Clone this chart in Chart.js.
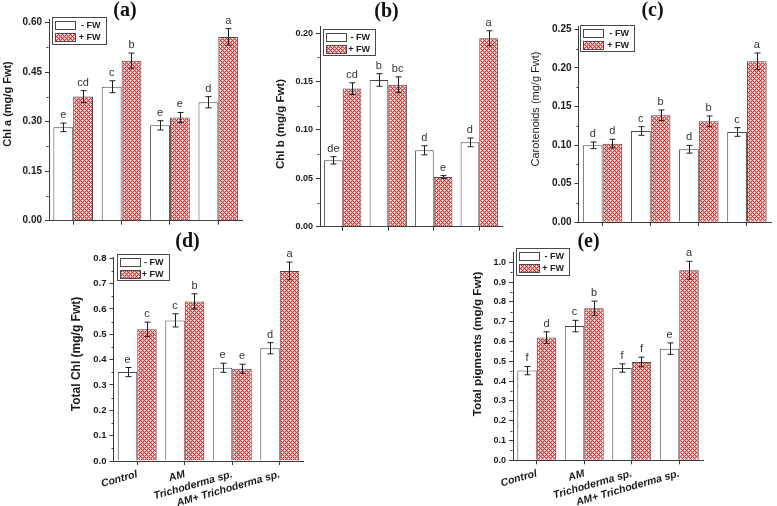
<!DOCTYPE html>
<html><head><meta charset="utf-8">
<script src="https://cdn.jsdelivr.net/npm/chart.js@4.4.1/dist/chart.umd.min.js"></script>
<style>
html,body{margin:0;padding:0;background:#fff;overflow:hidden;}
#wrap{position:relative;width:777px;height:506px;overflow:hidden;background:#fff;}
#wrap canvas{position:absolute;left:0;top:0;}
</style></head><body>
<div id="wrap">
<canvas id="pa" width="777" height="506"></canvas>
<canvas id="pb" width="777" height="506"></canvas>
<canvas id="pc" width="777" height="506"></canvas>
<canvas id="pd" width="777" height="506"></canvas>
<canvas id="pe" width="777" height="506"></canvas>
</div>
<script>
// ---------- DATA ----------
const categories = ['Control', 'AM', 'Trichoderma sp.', 'AM+ Trichoderma sp.'];
const seriesNames = ['- FW', '+ FW'];

// (a) Chl a
const chlA_minus = [0.283, 0.406, 0.289, 0.359];
const chlA_plus = [0.376, 0.485, 0.313, 0.557];
const chlA_minusErr = [0.013, 0.018, 0.014, 0.017];
const chlA_plusErr = [0.018, 0.023, 0.015, 0.025];
const chlA_minusLetters = ['e', 'c', 'e', 'd'];
const chlA_plusLetters = ['cd', 'b', 'e', 'a'];
const chlA_ticks = [0, 0.15, 0.30, 0.45, 0.60];
const chlA_tickLabels = ['0.00', '0.15', '0.30', '0.45', '0.60'];

// (b) Chl b
const chlB_minus = [0.0686, 0.1517, 0.079, 0.0872];
const chlB_plus = [0.1428, 0.1469, 0.0514, 0.1948];
const chlB_minusErr = [0.0038, 0.0065, 0.0047, 0.0045];
const chlB_plusErr = [0.006, 0.008, 0.0014, 0.0078];
const chlB_minusLetters = ['de', 'b', 'd', 'd'];
const chlB_plusLetters = ['cd', 'bc', 'e', 'a'];
const chlB_ticks = [0, 0.05, 0.10, 0.15, 0.20];
const chlB_tickLabels = ['0.00', '0.05', '0.10', '0.15', '0.20'];

// (c) Carotenoids
const car_minus = [0.0997, 0.1183, 0.0946, 0.117];
const car_plus = [0.1019, 0.1386, 0.1308, 0.2085];
const car_minusErr = [0.0043, 0.0056, 0.005, 0.0056];
const car_plusErr = [0.0056, 0.0069, 0.0069, 0.0108];
const car_minusLetters = ['d', 'c', 'd', 'c'];
const car_plusLetters = ['d', 'b', 'b', 'a'];
const car_ticks = [0, 0.05, 0.10, 0.15, 0.20, 0.25];
const car_tickLabels = ['0.00', '0.05', '0.10', '0.15', '0.20', '0.25'];

// (d) Total Chl
const tchl_minus = [0.351, 0.555, 0.368, 0.445];
const tchl_plus = [0.52, 0.63, 0.364, 0.75];
const tchl_minusErr = [0.018, 0.026, 0.018, 0.022];
const tchl_plusErr = [0.028, 0.030, 0.018, 0.035];
const tchl_minusLetters = ['e', 'c', 'e', 'd'];
const tchl_plusLetters = ['c', 'b', 'e', 'a'];
const tchl_ticks = [0, 0.1, 0.2, 0.3, 0.4, 0.5, 0.6, 0.7, 0.8];
const tchl_tickLabels = ['0.0', '0.1', '0.2', '0.3', '0.4', '0.5', '0.6', '0.7', '0.8'];

// (e) Total pigments
const tpig_minus = [0.453, 0.678, 0.466, 0.564];
const tpig_plus = [0.62, 0.768, 0.497, 0.96];
const tpig_minusErr = [0.021, 0.029, 0.021, 0.029];
const tpig_plusErr = [0.029, 0.036, 0.024, 0.045];
const tpig_minusLetters = ['f', 'c', 'f', 'e'];
const tpig_plusLetters = ['d', 'b', 'f', 'a'];
const tpig_ticks = [0, 0.1, 0.2, 0.3, 0.4, 0.5, 0.6, 0.7, 0.8, 0.9, 1.0];
const tpig_tickLabels = ['0.0', '0.1', '0.2', '0.3', '0.4', '0.5', '0.6', '0.7', '0.8', '0.9', '1.0'];

// ---------- LAYOUT / STYLE ----------
const SANS = "'Liberation Sans', Arial, Helvetica, sans-serif";
const SERIF = "'Liberation Serif', 'Times New Roman', serif";
Chart.defaults.font.family = SANS;

const panels = [
  { id: 'pa', title: '(a)', titlePos: [125, 11], yTitle: 'Chl a (mg/g Fwt)', yTitleBold: true, yTitleSize: 11, yTitlePos: [7.5, 104],
    area: { l: 49, r: 242.5, t: 19.4, b: 220.7 }, yMax: 0.61, ticks: chlA_ticks, tickLabels: chlA_tickLabels, tickFont: 10,
    minus: chlA_minus, plus: chlA_plus, minusErr: chlA_minusErr, plusErr: chlA_plusErr, minusLet: chlA_minusLetters, plusLet: chlA_plusLetters,
    showX: false, legend: { x: 51.5, y: 16.5, w: 54, h: 27 } },
  { id: 'pb', title: '(b)', titlePos: [386.5, 12], yTitle: 'Chl b (mg/g Fwt)', yTitleBold: true, yTitleSize: 11.5, yTitlePos: [281, 124],
    area: { l: 320, r: 502, t: 26.5, b: 226.7 }, yMax: 0.207, ticks: chlB_ticks, tickLabels: chlB_tickLabels, tickFont: 9,
    minus: chlB_minus, plus: chlB_plus, minusErr: chlB_minusErr, plusErr: chlB_plusErr, minusLet: chlB_minusLetters, plusLet: chlB_plusLetters,
    showX: false, legend: { x: 323, y: 28.5, w: 52, h: 26 } },
  { id: 'pc', title: '(c)', titlePos: [652.5, 11], yTitle: 'Carotenoids (mg/g Fwt)', yTitleBold: false, yTitleSize: 11, yTitlePos: [536, 109],
    area: { l: 578.5, r: 771, t: 26.6, b: 222.3 }, yMax: 0.2535, ticks: car_ticks, tickLabels: car_tickLabels, tickFont: 10,
    minus: car_minus, plus: car_plus, minusErr: car_minusErr, plusErr: car_plusErr, minusLet: car_minusLetters, plusLet: car_plusLetters,
    showX: false, legend: { x: 580, y: 24.5, w: 54, h: 26 } },
  { id: 'pd', title: '(d)', titlePos: [187.5, 241.5], yTitle: 'Total Chl (mg/g Fwt)', yTitleBold: true, yTitleSize: 12, yTitlePos: [77, 354],
    area: { l: 113.5, r: 303.5, t: 257.3, b: 461 }, yMax: 0.804, ticks: tchl_ticks, tickLabels: tchl_tickLabels, tickFont: 9.5,
    minus: tchl_minus, plus: tchl_plus, minusErr: tchl_minusErr, plusErr: tchl_plusErr, minusLet: tchl_minusLetters, plusLet: tchl_plusLetters,
    showX: true, legend: { x: 116.5, y: 254, w: 52, h: 26 } },
  { id: 'pe', title: '(e)', titlePos: [588.5, 242], yTitle: 'Total pigments (mg/g Fwt)', yTitleBold: true, yTitleSize: 11.7, yTitlePos: [477.5, 344],
    area: { l: 513, r: 703, t: 252.4, b: 460.3 }, yMax: 1.05, ticks: tpig_ticks, tickLabels: tpig_tickLabels, tickFont: 9,
    minus: tpig_minus, plus: tpig_plus, minusErr: tpig_minusErr, plusErr: tpig_plusErr, minusLet: tpig_minusLetters, plusLet: tpig_plusLetters,
    showX: true, legend: { x: 516, y: 248, w: 53, h: 27 } }
];

// hatch tile: diamond lattice (red lines, pink interior, white centre dot)
const tile = document.createElement('canvas');
tile.width = 4; tile.height = 4;
(function () {
  const g = tile.getContext('2d');
  const img = g.createImageData(4, 4);
  for (let y = 0; y < 4; y++) {
    for (let x = 0; x < 4; x++) {
      let c;
      const s = (x + y) % 4, d = (x - y + 4) % 4;
      if (s === 0 || d === 0) c = [236, 42, 42];
      else if (s === 2 && d === 2) c = [255, 255, 255];
      else c = [252, 160, 160];
      const k = (y * 4 + x) * 4;
      img.data[k] = c[0]; img.data[k + 1] = c[1]; img.data[k + 2] = c[2]; img.data[k + 3] = 255;
    }
  }
  g.putImageData(img, 0, 0);
})();

const AXIS = '#3a3a3a';
const BORDER = '#4a4a4a';

function decorPlugin(p, hatch) {
  return {
    id: 'decor_' + p.id,
    afterDatasetsDraw(chart) {
      const ctx = chart.ctx;
      const ys = chart.scales.y;
      ctx.save();
      // error bars + letters
      const errs = [p.minusErr, p.plusErr];
      const lets = [p.minusLet, p.plusLet];
      chart.data.datasets.forEach((ds, di) => {
        const meta = chart.getDatasetMeta(di);
        meta.data.forEach((el, i) => {
          const v = ds.data[i], e = errs[di][i];
          const yt = ys.getPixelForValue(v + e), yb = ys.getPixelForValue(v - e);
          const x = Math.round(el.x) + 0.5;
          ctx.strokeStyle = '#1e1e1e'; ctx.lineWidth = 1;
          ctx.beginPath();
          ctx.moveTo(x, yt); ctx.lineTo(x, yb);
          ctx.moveTo(x - 3, yt); ctx.lineTo(x + 3, yt);
          ctx.moveTo(x - 3, yb); ctx.lineTo(x + 3, yb);
          ctx.stroke();
          ctx.fillStyle = '#333';
          ctx.font = '11px ' + SANS;
          ctx.textAlign = 'center'; ctx.textBaseline = 'alphabetic';
          ctx.fillText(lets[di][i], el.x, yt - 5);
        });
      });
      // minor y ticks
      ctx.strokeStyle = AXIS; ctx.lineWidth = 1;
      const xl = Math.round(chart.chartArea.left) - 0.5;
      ctx.beginPath();
      for (let i = 0; i < p.ticks.length - 1; i++) {
        const yy = Math.round(ys.getPixelForValue((p.ticks[i] + p.ticks[i + 1]) / 2)) + 0.5;
        ctx.moveTo(xl, yy); ctx.lineTo(xl - 2, yy);
      }
      ctx.stroke();
      // legend
      const L = p.legend;
      ctx.strokeStyle = BORDER; ctx.lineWidth = 1;
      ctx.fillStyle = '#fff';
      ctx.fillRect(L.x, L.y, L.w, L.h);
      ctx.strokeRect(Math.round(L.x) + 0.5, Math.round(L.y) + 0.5, L.w, L.h);
      const sx = Math.round(L.x) + 3.5;
      const r1 = Math.round(L.y) + 4.5, r2 = Math.round(L.y) + 16.5;
      ctx.fillStyle = '#fff'; ctx.fillRect(sx, r1, 20, 8); ctx.strokeRect(sx, r1, 20, 8);
      ctx.fillStyle = hatch; ctx.fillRect(sx, r2, 20, 8); ctx.strokeRect(sx, r2, 20, 8);
      ctx.fillStyle = '#222';
      ctx.font = 'bold 9px ' + SANS;
      ctx.textAlign = 'right'; ctx.textBaseline = 'middle';
      ctx.fillText(seriesNames[0], L.x + L.w - 5, r1 + 4.5);
      ctx.fillText(seriesNames[1], L.x + L.w - 5, r2 + 4.5);
      // panel title
      ctx.font = 'bold 20px ' + SERIF;
      ctx.textAlign = 'center'; ctx.textBaseline = 'middle';
      ctx.fillStyle = '#111';
      ctx.fillText(p.title, p.titlePos[0], p.titlePos[1]);
      // y title
      ctx.save();
      ctx.translate(p.yTitlePos[0], p.yTitlePos[1]);
      ctx.rotate(-Math.PI / 2);
      ctx.font = (p.yTitleBold ? 'bold ' : '') + p.yTitleSize + 'px ' + SANS;
      ctx.fillStyle = '#1a1a1a';
      ctx.textAlign = 'center'; ctx.textBaseline = 'middle';
      ctx.fillText(p.yTitle, 0, 0);
      ctx.restore();
      ctx.restore();
    }
  };
}

function buildPanel(p) {
  const canvas = document.getElementById(p.id);
  const ctx = canvas.getContext('2d');
  const hatch = ctx.createPattern(tile, 'repeat');
  const yW = 40;
  const xH = p.showX ? 45 : 10;
  new Chart(ctx, {
    type: 'bar',
    data: {
      labels: categories,
      datasets: [
        { label: seriesNames[0], data: p.minus, backgroundColor: '#ffffff', borderColor: BORDER, borderWidth: 1,
          barPercentage: 1, categoryPercentage: 0.82 },
        { label: seriesNames[1], data: p.plus, backgroundColor: hatch, borderColor: BORDER, borderWidth: 1,
          barPercentage: 1, categoryPercentage: 0.82 }
      ]
    },
    options: {
      responsive: false,
      animation: false,
      events: [],
      layout: { padding: { left: p.area.l - yW, right: 777 - p.area.r, top: p.area.t, bottom: 506 - p.area.b - xH } },
      plugins: { legend: { display: false }, tooltip: { enabled: false }, title: { display: false } },
      scales: {
        x: {
          offset: true,
          afterFit(s) { s.height = xH; },
          grid: { offset: false, drawOnChartArea: false, drawTicks: true, tickLength: 4, color: AXIS, tickColor: AXIS },
          border: { display: true, color: AXIS, width: 1 },
          ticks: {
            display: p.showX, autoSkip: false, minRotation: 16, maxRotation: 16, padding: 3, color: '#1a1a1a',
            font: { family: SANS, style: 'italic', weight: 'bold', size: 10.5 }
          }
        },
        y: {
          min: 0, max: p.yMax,
          afterFit(s) { s.width = yW; },
          afterBuildTicks(s) { s.ticks = p.ticks.map(v => ({ value: v })); },
          grid: { drawOnChartArea: false, drawTicks: true, tickLength: 4, color: AXIS, tickColor: AXIS },
          border: { display: true, color: AXIS, width: 1 },
          ticks: {
            padding: 3, color: '#1a1a1a',
            font: { family: SANS, weight: 'bold', size: p.tickFont },
            callback: (v, i) => p.tickLabels[i]
          }
        }
      }
    },
    plugins: [decorPlugin(p, hatch)]
  });
}

panels.forEach(buildPanel);
</script>
</body></html>
